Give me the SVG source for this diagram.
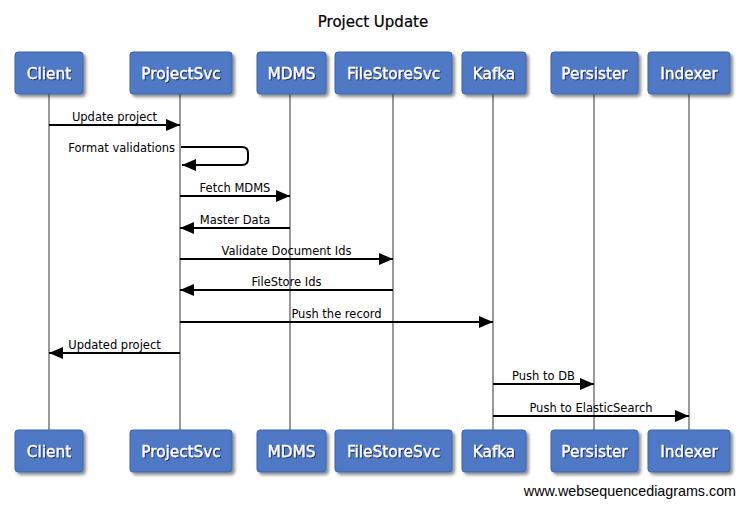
<svg xmlns="http://www.w3.org/2000/svg" width="745" height="506" viewBox="0 0 745 506">
<defs>
<filter id="sh" x="-20%" y="-20%" width="150%" height="160%">
<feDropShadow dx="2.5" dy="2.5" stdDeviation="1.5" flood-color="#000" flood-opacity="0.45"/>
</filter>
<filter id="tsh" x="-10%" y="-20%" width="130%" height="160%">
<feDropShadow dx="1" dy="1" stdDeviation="0.5" flood-color="#15224a" flood-opacity="0.9"/>
</filter>
<marker id="ah" viewBox="0 0 14 12" refX="14" refY="6" markerWidth="14" markerHeight="12" markerUnits="userSpaceOnUse" orient="auto">
<path d="M0,0 L14,6 L0,12 Z" fill="#000"/>
</marker>
</defs>
<style>
.box{fill:#4f79c5;stroke:#3f62a4;stroke-width:1;filter:url(#sh)}
.bt{font-family:"DejaVu Sans",Verdana,sans-serif;font-size:15.3px;fill:#fff;text-anchor:middle;filter:url(#tsh);stroke:#fff;stroke-width:0.3}
.life{stroke:#9a9a9a;stroke-width:2}
.msg{stroke:#000;stroke-width:2;fill:none;marker-end:url(#ah)}
.ml{font-family:"DejaVu Sans",Verdana,sans-serif;font-size:11.5px;fill:#000;text-anchor:middle}
</style>
<rect width="745" height="506" fill="#fff"/>
<text x="373" y="27" font-family="DejaVu Sans, Verdana, sans-serif" font-size="15" text-anchor="middle" fill="#000" stroke="#000" stroke-width="0.2">Project Update</text>
<g id="lifelines">
<line class="life" x1="49" y1="94" x2="49" y2="430"/>
<line class="life" x1="180" y1="94" x2="180" y2="430"/>
<line class="life" x1="290" y1="94" x2="290" y2="430"/>
<line class="life" x1="393" y1="94" x2="393" y2="430"/>
<line class="life" x1="493" y1="94" x2="493" y2="430"/>
<line class="life" x1="594" y1="94" x2="594" y2="430"/>
<line class="life" x1="689" y1="94" x2="689" y2="430"/>
</g>
<g id="node-client">
<rect class="box" x="15" y="52" width="68" height="42" rx="3"/>
<text class="bt" x="49" y="78.5">Client</text>
<rect class="box" x="15" y="430" width="68" height="42" rx="3"/>
<text class="bt" x="49" y="456.5">Client</text>
</g>
<g id="node-projectsvc">
<rect class="box" x="130" y="52" width="102" height="42" rx="3"/>
<text class="bt" x="181" y="78.5">ProjectSvc</text>
<rect class="box" x="130" y="430" width="102" height="42" rx="3"/>
<text class="bt" x="181" y="456.5">ProjectSvc</text>
</g>
<g id="node-mdms">
<rect class="box" x="257" y="52" width="69" height="42" rx="3"/>
<text class="bt" x="291.5" y="78.5">MDMS</text>
<rect class="box" x="257" y="430" width="69" height="42" rx="3"/>
<text class="bt" x="291.5" y="456.5">MDMS</text>
</g>
<g id="node-filestoresvc">
<rect class="box" x="335" y="52" width="117" height="42" rx="3"/>
<text class="bt" x="393.5" y="78.5">FileStoreSvc</text>
<rect class="box" x="335" y="430" width="117" height="42" rx="3"/>
<text class="bt" x="393.5" y="456.5">FileStoreSvc</text>
</g>
<g id="node-kafka">
<rect class="box" x="462" y="52" width="64" height="42" rx="3"/>
<text class="bt" x="494" y="78.5">Kafka</text>
<rect class="box" x="462" y="430" width="64" height="42" rx="3"/>
<text class="bt" x="494" y="456.5">Kafka</text>
</g>
<g id="node-persister">
<rect class="box" x="551" y="52" width="87" height="42" rx="3"/>
<text class="bt" x="594.5" y="78.5">Persister</text>
<rect class="box" x="551" y="430" width="87" height="42" rx="3"/>
<text class="bt" x="594.5" y="456.5">Persister</text>
</g>
<g id="node-indexer">
<rect class="box" x="648" y="52" width="82" height="42" rx="3"/>
<text class="bt" x="689" y="78.5">Indexer</text>
<rect class="box" x="648" y="430" width="82" height="42" rx="3"/>
<text class="bt" x="689" y="456.5">Indexer</text>
</g>
<g id="connectors">
<line class="msg" x1="49" y1="125" x2="180" y2="125"/>
<text class="ml" x="114.5" y="121">Update project</text>
<path class="msg" d="M181,147 H242 Q248,147 248,153 V159 Q248,165 242,165 H182"/>
<text class="ml" x="175" y="152" style="text-anchor:end">Format validations</text>
<line class="msg" x1="180" y1="196" x2="290" y2="196"/>
<text class="ml" x="235" y="192">Fetch MDMS</text>
<line class="msg" x1="290" y1="228" x2="180" y2="228"/>
<text class="ml" x="235" y="224">Master Data</text>
<line class="msg" x1="180" y1="259" x2="393" y2="259"/>
<text class="ml" x="286.5" y="255">Validate Document Ids</text>
<line class="msg" x1="393" y1="290" x2="180" y2="290"/>
<text class="ml" x="286.5" y="286">FileStore Ids</text>
<line class="msg" x1="180" y1="322" x2="493" y2="322"/>
<text class="ml" x="336.5" y="318">Push the record</text>
<line class="msg" x1="180" y1="353" x2="49" y2="353"/>
<text class="ml" x="114.5" y="349">Updated project</text>
<line class="msg" x1="493" y1="384" x2="594" y2="384"/>
<text class="ml" x="543.5" y="380">Push to DB</text>
<line class="msg" x1="493" y1="416" x2="689" y2="416"/>
<text class="ml" x="591" y="412">Push to ElasticSearch</text>
</g>
<text x="736" y="496" font-family="Liberation Sans, Arial, sans-serif" font-size="14.3" text-anchor="end" fill="#000">www.websequencediagrams.com</text>
</svg>
